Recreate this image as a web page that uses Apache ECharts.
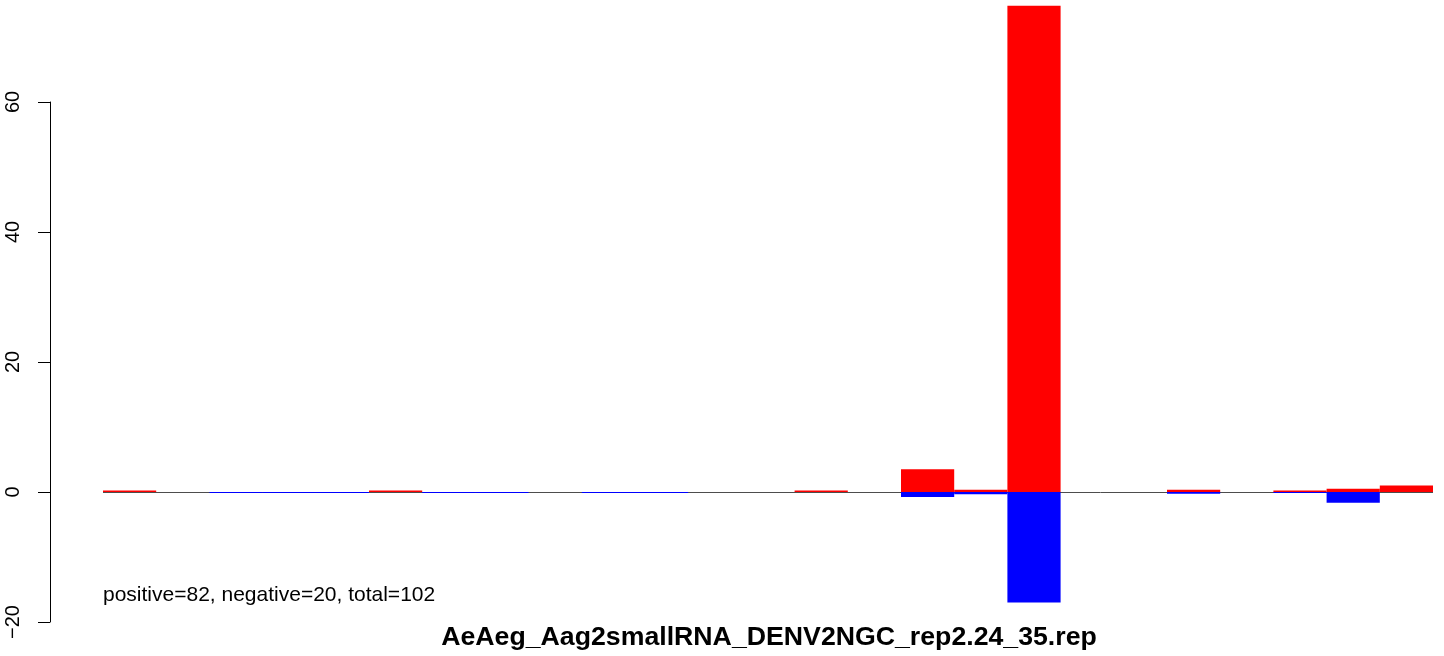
<!DOCTYPE html>
<html>
<head>
<meta charset="utf-8">
<script src="https://cdn.jsdelivr.net/npm/echarts@6/dist/echarts.min.js"></script>
<style>html,body{margin:0;padding:0;background:#fff}#c{width:1444px;height:656px}</style>
</head>
<body>
<div id="c"></div>
<script>
const categories = ['1','2','3','4','5','6','7','8','9','10','11','12','13','14','15','16','17','18','19','20','21','22','23','24','25'];
const positiveValues = [0.15,null,null,null,null,0.15,null,null,null,null,null,null,null,0.15,null,3.5,0.35,74.8,null,null,0.35,null,0.2,0.5,1.0];
const negativeValues = [null,null,-0.05,-0.05,-0.05,null,-0.05,-0.05,null,-0.05,-0.05,null,null,null,null,-0.75,-0.35,-17,null,null,-0.25,null,-0.1,-1.65,null];
const yTicks = {min:-20, max:60, interval:20};
const titleText = 'AeAeg_Aag2smallRNA_DENV2NGC_rep2.24_35.rep';
const noteText = 'positive=82, negative=20, total=102';

const chart = echarts.init(document.getElementById('c'), null, {renderer:'canvas'});
const FONT = '"Liberation Sans", Arial, Helvetica, sans-serif';
chart.setOption({
  animation:false,
  backgroundColor:'#ffffff',
  grid:{left:103, right:11, top:102, bottom:34, containLabel:false},
  xAxis:{type:'category', data:categories, boundaryGap:true, show:false},
  yAxis:{
    type:'value', min:yTicks.min, max:yTicks.max, interval:yTicks.interval,
    offset:53,
    axisLine:{show:true, lineStyle:{color:'#000', width:1}},
    axisTick:{show:true, length:12, lineStyle:{color:'#000', width:1}},
    axisLabel:{show:true, rotate:90, margin:27, color:'#000', fontSize:20, fontFamily:FONT,
      formatter:v=> v<0 ? '\u2212'+Math.abs(v) : String(v)},
    splitLine:{show:false}
  },
  series:[
    {type:'bar', name:'positive', data:positiveValues, stack:'s', barWidth:'100%', barGap:'-100%',
     clip:false, barMinHeight:1.5, z:3, itemStyle:{color:'#ff0000'},
     markLine:{silent:true, symbol:'none', label:{show:false}, z:1,
       lineStyle:{color:'#4d4d4d', width:1, type:'solid'}, data:[{yAxis:0}]}},
    {type:'bar', name:'negative', data:negativeValues, stack:'s', barWidth:'100%',
     clip:false, barMinHeight:1, z:3, itemStyle:{color:'#0000ff'}}
  ],
  graphic:[
    {type:'text', left:103, top:585, style:{text:noteText, fill:'#000', font:'21px '+FONT}},
    {type:'text', x:769, y:638, style:{text:titleText, fill:'#000', font:'bold 26.7px '+FONT, align:'center', verticalAlign:'middle'}}
  ]
});
</script>
</body>
</html>
